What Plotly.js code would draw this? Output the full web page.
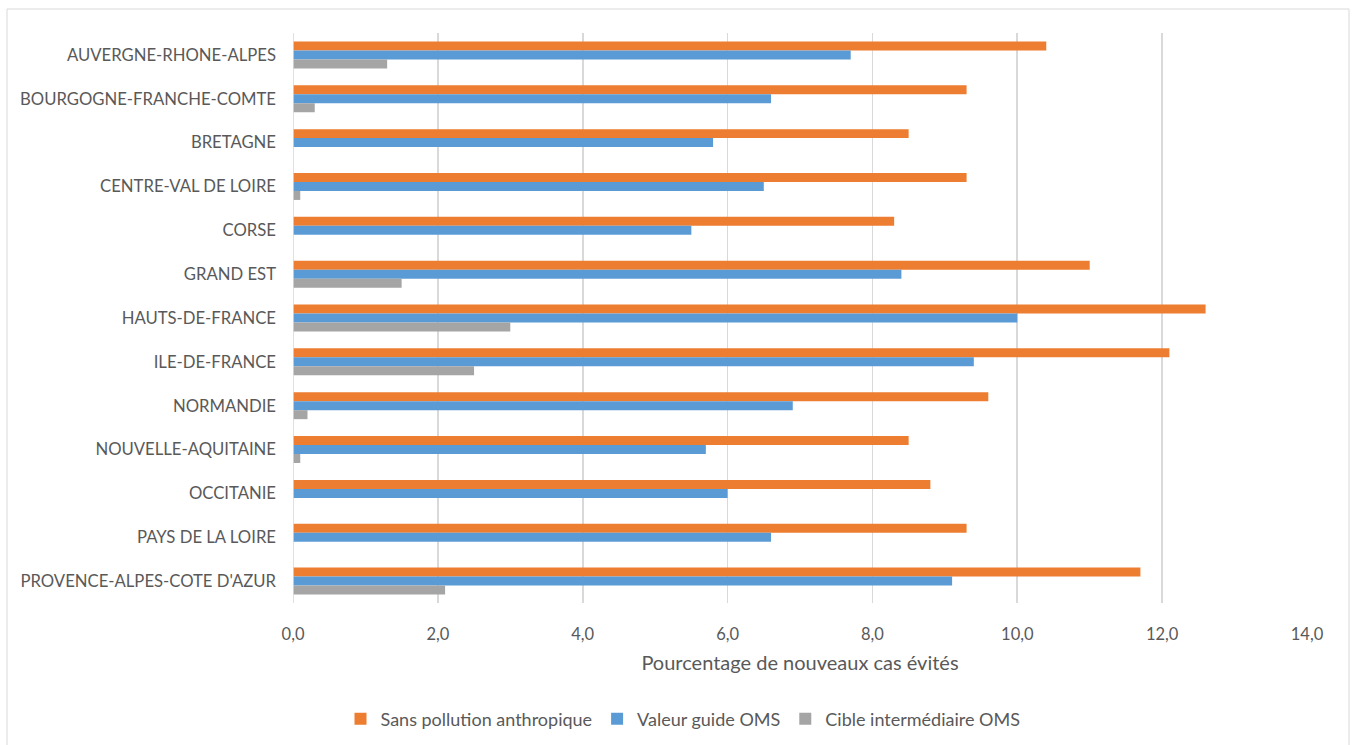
<!DOCTYPE html>
<html>
<head>
<meta charset="utf-8">
<script src="https://cdn.plot.ly/plotly-3.0.1.min.js"></script>
<style>
  html, body { margin: 0; padding: 0; background: #ffffff; }
  #chart { width: 1357px; height: 745px; }
</style>
</head>
<body>
<div id="chart"></div>
<script>
// Regions, top to bottom
const regions = [
  "AUVERGNE-RHONE-ALPES",
  "BOURGOGNE-FRANCHE-COMTE",
  "BRETAGNE",
  "CENTRE-VAL DE LOIRE",
  "CORSE",
  "GRAND EST",
  "HAUTS-DE-FRANCE",
  "ILE-DE-FRANCE",
  "NORMANDIE",
  "NOUVELLE-AQUITAINE",
  "OCCITANIE",
  "PAYS DE LA LOIRE",
  "PROVENCE-ALPES-COTE D'AZUR"
];

// Percentage of new cases avoided per scenario
const sansPollution = [10.4, 9.3, 8.5, 9.3, 8.3, 11.0, 12.6, 12.1, 9.6, 8.5, 8.8, 9.3, 11.7];
const valeurGuide   = [7.7, 6.6, 5.8, 6.5, 5.5, 8.4, 10.0, 9.4, 6.9, 5.7, 6.0, 6.6, 9.1];
const cibleInter    = [1.3, 0.3, 0.0, 0.1, 0.0, 1.5, 3.0, 2.5, 0.2, 0.1, 0.0, 0.0, 2.1];

const seriesNames = ["Sans pollution anthropique", "Valeur guide OMS", "Cible intermédiaire OMS"];
const seriesColors = ["#ED7D31", "#5B9BD5", "#A5A5A5"];
const xTicks = [0, 2, 4, 6, 8, 10, 12, 14];

const FONT = "Lato, 'Open Sans', sans-serif";
const TEXT = "#595959";

const values = [sansPollution, valeurGuide, cibleInter];
const traces = values.map((v, i) => ({
  type: "bar",
  orientation: "h",
  name: seriesNames[i],
  x: v,
  y: regions,
  marker: { color: seriesColors[i], line: { width: 0 } },
  hoverinfo: "x+y+name"
}));

// Plot frame in pixels
const W = 1357, H = 745;
const L = 293, R = 50, T = 33, B = 142;
const pw = W - L - R, ph = H - T - B;

const layout = {
  width: W,
  height: H,
  margin: { l: L, r: R, t: T, b: B, pad: 0, autoexpand: false },
  paper_bgcolor: "#ffffff",
  plot_bgcolor: "#ffffff",
  separators: ",.",
  barmode: "group",
  bargap: 0.385,
  bargroupgap: 0,
  font: { family: FONT, color: TEXT, size: 16 },
  showlegend: true,
  legend: {
    orientation: "h",
    x: (683 - L) / pw,
    xanchor: "center",
    yref: "container",
    y: (H - 719) / H,
    yanchor: "middle",
    traceorder: "normal",
    font: { family: FONT, size: 18, color: TEXT },
    itemwidth: 30,
    bgcolor: "rgba(0,0,0,0)"
  },
  xaxis: {
    range: [0, 14],
    tickvals: xTicks,
    tickformat: ".1f",
    showgrid: true,
    gridcolor: "#d9d9d9",
    gridwidth: 1.6,
    zeroline: false,
    showline: false,
    ticks: "",
    ticklabelstandoff: 19,
    tickfont: { family: FONT, size: 16.5, color: TEXT },
    title: {
      text: "Pourcentage de nouveaux cas évités",
      font: { family: FONT, size: 20, color: TEXT },
      standoff: 13
    },
    automargin: false,
    fixedrange: true
  },
  yaxis: {
    type: "category",
    autorange: "reversed",
    showgrid: false,
    zeroline: false,
    showline: false,
    ticks: "",
    ticklabelstandoff: 16,
    tickfont: { family: FONT, size: 16.7, color: TEXT },
    automargin: false,
    fixedrange: true
  },
  shapes: [
    // vertical category axis line
    {
      type: "line", xref: "x", yref: "paper",
      x0: 0, x1: 0, y0: 0, y1: 1,
      line: { color: "#d9d9d9", width: 1.6 }
    },
    // chart area border
    {
      type: "rect", xref: "paper", yref: "paper",
      x0: (7 - L) / pw, x1: (1349 - L) / pw,
      y0: (T + ph - 760) / ph, y1: (T + ph - 9) / ph,
      line: { color: "#d9d9d9", width: 1 },
      fillcolor: "rgba(0,0,0,0)",
      layer: "below"
    }
  ]
};

Plotly.newPlot("chart", traces, layout, { displayModeBar: false, staticPlot: true });
</script>
</body>
</html>
